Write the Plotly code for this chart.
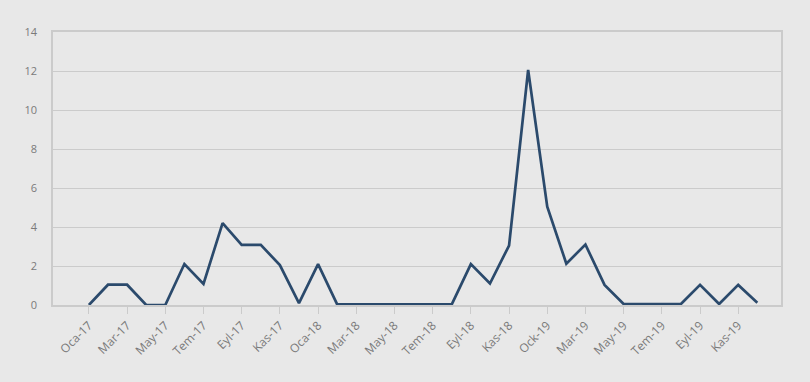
import plotly.graph_objects as go

months = [
    "Oca-17", "Şub-17", "Mar-17", "Nis-17", "May-17", "Haz-17", "Tem-17", "Ağu-17", "Eyl-17", "Eki-17", "Kas-17", "Ara-17",
    "Oca-18", "Şub-18", "Mar-18", "Nis-18", "May-18", "Haz-18", "Tem-18", "Ağu-18", "Eyl-18", "Eki-18", "Kas-18", "Ara-18",
    "Ock-19", "Şub-19", "Mar-19", "Nis-19", "May-19", "Haz-19", "Tem-19", "Ağu-19", "Eyl-19", "Eki-19", "Kas-19", "Ara-19",
]
values = [
    0, 1.04, 1.04, 0, 0, 2.1, 1.08, 4.2, 3.08, 3.08, 2.05, 0.1,
    2.1, 0.03, 0.03, 0.03, 0.03, 0.03, 0.03, 0.03, 2.1, 1.1, 3.05, 12.05,
    5.04, 2.12, 3.1, 1.03, 0.05, 0.05, 0.05, 0.05, 1.03, 0.05, 1.03, 0.12,
]
tick_labels = months[::2]

fig = go.Figure(
    go.Scatter(
        x=list(range(len(months))),
        y=values,
        mode="lines",
        line=dict(color="#2b4a6c", width=2.7),
        hoverinfo="skip",
    )
)

grid = "#cbcbcb"
fig.update_layout(
    width=810,
    height=382,
    paper_bgcolor="#e8e8e8",
    plot_bgcolor="#e8e8e8",
    margin=dict(l=53, r=29, t=32, b=77),
    showlegend=False,
    font=dict(family="Open Sans", size=11, color="#7a7a7a"),
)
fig.update_xaxes(
    range=[-1.88, 36.24],
    tickmode="array",
    tickvals=list(range(0, len(months), 2)),
    ticktext=tick_labels,
    tickangle=-45,
    ticks="outside",
    ticklen=7,
    tickcolor=grid,
    showgrid=False,
    showline=True,
    linecolor=grid,
    linewidth=1.5,
    mirror=True,
    zeroline=False,
    tickfont=dict(size=12, color="#7a7a7a"),
)
fig.update_yaxes(
    range=[0, 14],
    dtick=2,
    showgrid=True,
    gridcolor=grid,
    gridwidth=1.2,
    showline=True,
    linecolor=grid,
    linewidth=1.5,
    mirror=True,
    zeroline=False,
    ticks="",
    ticklabelstandoff=12,
    tickfont=dict(size=11, color="#7a7a7a"),
)

fig.write_html(
    "out.html",
    config={"displayModeBar": False},
    post_script="document.body.style.margin='0';document.body.style.padding='0';document.body.style.background='#e8e8e8';",
)
